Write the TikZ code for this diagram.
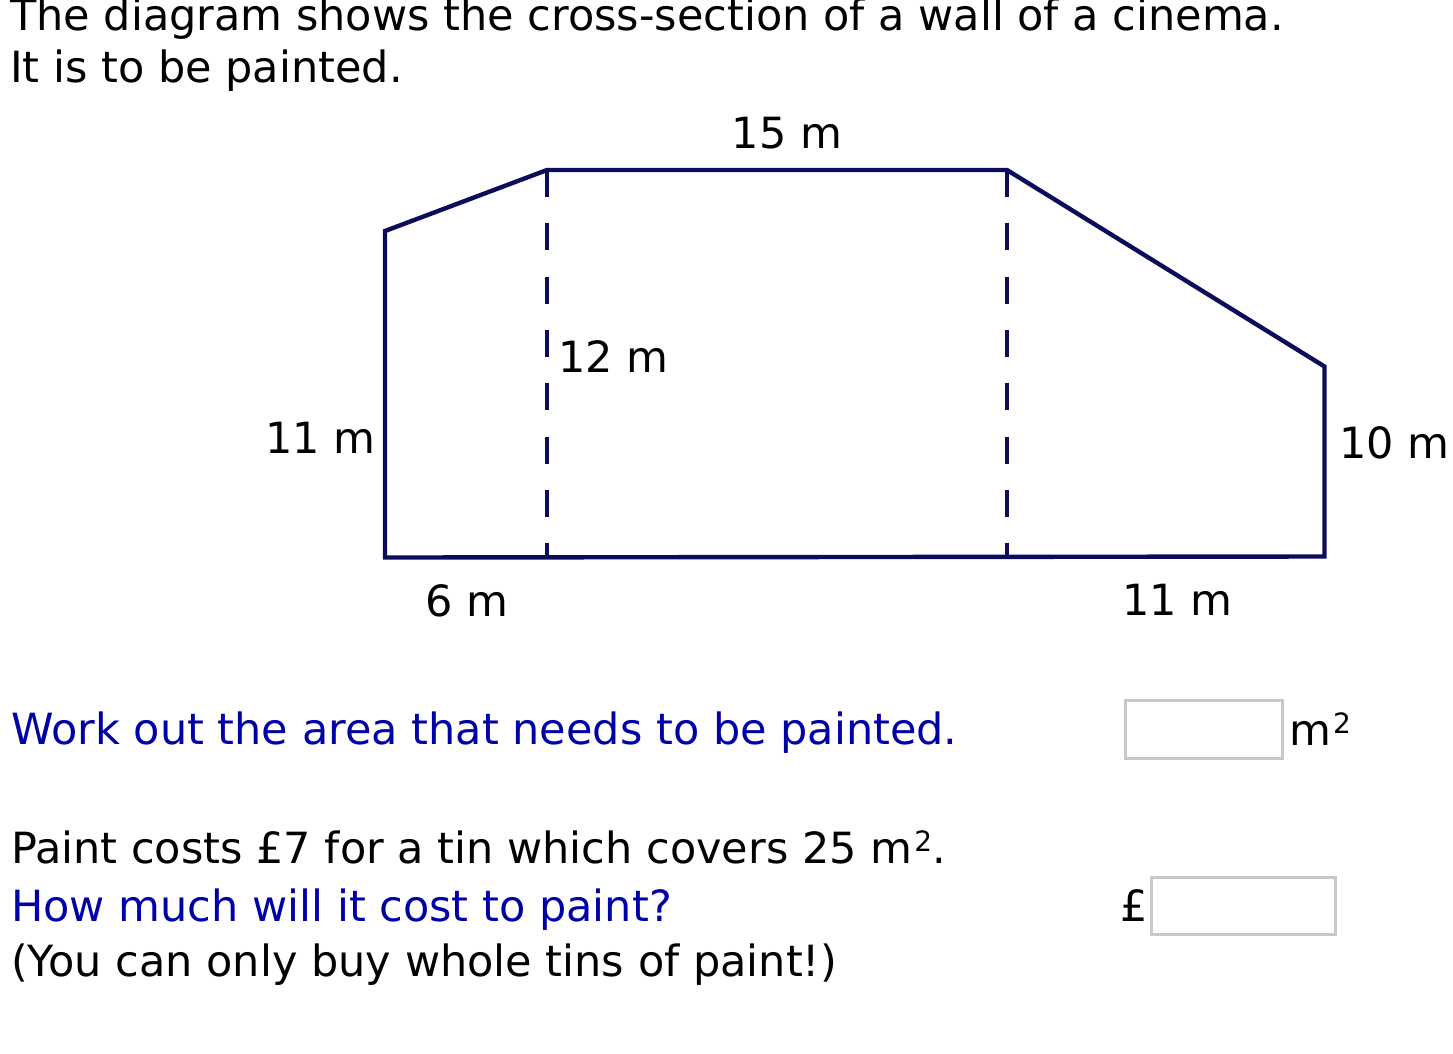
\documentclass[tikz,border=0pt]{standalone}
\usepackage{fontspec}
\setmainfont{DejaVu Sans}
\definecolor{navy}{RGB}{12,12,92}
\definecolor{qblue}{RGB}{0,0,168}
\definecolor{boxgrey}{RGB}{200,200,200}
\newcommand{\sqsup}{\kern2pt\raisebox{12pt}{\fontsize{28}{28}\selectfont 2}}
\begin{document}
\begin{tikzpicture}[x=1pt,y=-1pt,
  txt/.style={inner sep=0pt, anchor=base west, font=\fontsize{43}{52}\selectfont},
  ctxt/.style={inner sep=0pt, anchor=base, font=\fontsize{43}{52}\selectfont},
  wall/.style={draw=navy, line width=4.4pt},
  hidden/.style={draw=navy, line width=4.4pt, dash pattern=on 27pt off 26.3pt},
  answer/.style={draw=boxgrey, line width=2.5pt, fill=white}]
\useasboundingbox (0,0) rectangle (1453,1053);
% vertices of the wall
\coordinate (A) at (385,557.5);
\coordinate (B) at (385,231);
\coordinate (C) at (547,170);
\coordinate (D) at (1007,170);
\coordinate (E) at (1324.5,366.5);
\coordinate (F) at (1324.5,556.5);
\coordinate (Cb) at (547,557.4);
\coordinate (Db) at (1007,556.9);
\draw[wall] (A) -- (B) -- (C) -- (D) -- (E) -- (F) -- cycle;
\draw[hidden] (C) -- (Cb);
\draw[hidden] (D) -- (Db);
% texts
\node[txt] (t1) at (10,30) {The diagram shows the cross-section of a wall of a cinema.};
\node[txt] (t2) at (10,82) {It is to be painted.};
\node[ctxt] (l15) at (787,148) {15 m};
\node[txt] (l12) at (558,372.5) {12 m};
\node[txt,anchor=base east] (l11a) at (376,453) {11 m};
\node[txt] (l10) at (1339,458) {10 m};
\node[ctxt] (l6) at (467,616) {6 m};
\node[ctxt] (l11b) at (1177.5,615) {11 m};
\node[txt,text=qblue] (q1) at (11,744) {Work out the area that needs to be painted.};
\node[answer, minimum width=157pt, minimum height=58pt, anchor=north west, inner sep=0pt] (box1) at (1124,699) {};
\node[txt] (m2) at (1289,745) {m\sqsup};
\node[txt] (p1) at (11,863) {Paint costs £7 for a tin which covers 25 m\sqsup.};
\node[txt,text=qblue] (q2) at (11,921.7) {How much will it cost to paint?};
\node[txt] (p2) at (11,976) {(You can only buy whole tins of paint!)};
\node[txt] (pound) at (1120,921) {£};
\node[answer, minimum width=184pt, minimum height=57pt, anchor=north west, inner sep=0pt] (box2) at (1150,876) {};
\end{tikzpicture}
\end{document}
